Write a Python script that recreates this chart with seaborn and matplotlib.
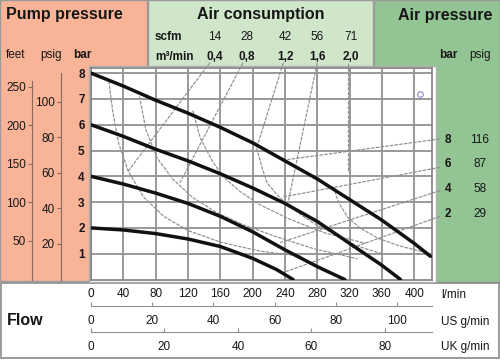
import matplotlib
matplotlib.use('Agg')
import pandas as pd
import matplotlib.pyplot as plt
import seaborn as sns
from matplotlib.patches import Rectangle

# pump curves: flow (l/min) vs pump pressure (bar), one per air pressure
flow_8bar = [0, 40, 80, 120, 160, 200, 240, 280, 320, 360, 400, 420]
head_8bar = [8.0, 7.5, 6.95, 6.45, 5.9, 5.3, 4.6, 3.9, 3.1, 2.3, 1.4, 0.9]
flow_6bar = [0, 40, 80, 120, 160, 200, 240, 280, 320, 360, 383]
head_6bar = [6.0, 5.55, 5.05, 4.6, 4.1, 3.55, 2.95, 2.25, 1.4, 0.55, 0.0]
flow_4bar = [0, 40, 80, 120, 160, 200, 240, 280, 314]
head_4bar = [4.0, 3.7, 3.35, 2.95, 2.45, 1.85, 1.15, 0.5, 0.0]
flow_2bar = [0, 40, 80, 120, 160, 200, 230, 250]
head_2bar = [2.0, 1.92, 1.78, 1.57, 1.28, 0.82, 0.38, 0.0]

# air consumption arcs (thin grey)
arc1_flow = [22, 27, 34, 46, 65, 90, 120, 160, 209, 260]
arc1_head = [7.7, 6.5, 5.3, 4.2, 3.2, 2.45, 1.9, 1.45, 1.1, 0.9]
arc2_flow = [60, 68, 82, 101, 125, 155, 190, 230, 275, 330]
arc2_head = [7.1, 5.8, 4.7, 3.9, 3.2, 2.6, 2.1, 1.65, 1.2, 0.8]
arc3_flow = [126, 135, 150, 163, 185, 209, 245, 290, 340]
arc3_head = [6.55, 5.5, 4.6, 4.0, 3.4, 2.9, 2.35, 1.8, 1.4]
arc4_flow = [205, 212, 218, 230, 243, 260, 280, 305, 329, 360]
arc4_head = [5.1, 4.3, 3.75, 3.3, 2.9, 2.5, 2.1, 1.7, 1.3, 1.0]
arc5_flow = [300, 304, 308, 318, 333, 355, 382, 420]
arc5_head = [3.6, 3.2, 2.9, 2.4, 2.0, 1.6, 1.3, 1.0]

# leader lines from the air consumption labels
lead_top_flow = [[147, 46], [188, 110], [238, 205], [280, 244], [318, 318]]
lead_top_head = [[8.4, 4.2], [8.4, 3.75], [8.4, 5.1], [8.4, 3.0], [8.4, 4.15]]
# leader lines from the air pressure labels
lead_right_flow = [[432, 243], [432, 238], [432, 234], [432, 238]]
lead_right_head = [[5.45, 4.65], [4.35, 3.2], [3.45, 1.43], [2.45, 0.27]]

scfm_labels = ['14', '28', '42', '56', '71']
m3_labels = ['0,4', '0,8', '1,2', '1,6', '2,0']
scfm_x = [215, 247, 285, 317, 351]

air_bar = ['8', '6', '4', '2']
air_psig = ['116', '87', '58', '29']
air_y = [143, 167, 192, 217]

flow_ticks = [0, 40, 80, 120, 160, 200, 240, 280, 320, 360, 400]
us_ticks = [0, 20, 40, 60, 80, 100]
uk_ticks = [0, 20, 40, 60, 80]
bar_ticks = [1, 2, 3, 4, 5, 6, 7, 8]
feet_ticks = [50, 100, 150, 200, 250]
psig_ticks = [20, 40, 60, 80, 100]

W, H = 500, 360
SALMON = '#f9b498'
LGREEN = '#cfe6cb'
DGREEN = '#93c494'
TXT = '#161616'


def rect(fig, x0, y0, x1, y1, fc, ec='#9a9a9a', lw=1.0):
    r = Rectangle((x0 / W, 1 - y1 / H), (x1 - x0) / W, (y1 - y0) / H,
                  transform=fig.transFigure, fc=fc, ec=ec, lw=lw, zorder=-1)
    fig.add_artist(r)


def ftext(fig, x, y, s, **kw):
    kw.setdefault('color', TXT)
    kw.setdefault('va', 'baseline')
    fig.text(x / W, 1 - y / H, s, **kw)


sns.set_theme(style='white')
plt.rcParams['font.family'] = ['Liberation Sans', 'DejaVu Sans']

fig = plt.figure(figsize=(5, 3.6), dpi=100)
fig.patch.set_facecolor('white')

# background panels
rect(fig, 0, 0, 147, 281, SALMON)
rect(fig, 148, 0, 373, 67, LGREEN)
rect(fig, 374, 0, 500, 282, DGREEN)
rect(fig, 1, 283, 499, 358, 'white', ec='#8a8a8a', lw=1.2)
rect(fig, 89, 66, 436, 282, 'white', ec='#b0b0b0', lw=1.0)

ax = fig.add_axes([91 / W, 1 - 279.5 / H, 341 / W, 211.5 / H])
ax.set_facecolor('white')

rows = []
for p, fl, hd in [(8, flow_8bar, head_8bar), (6, flow_6bar, head_6bar),
                  (4, flow_4bar, head_4bar), (2, flow_2bar, head_2bar)]:
    for f, h in zip(fl, hd):
        rows.append({'flow': f, 'head': h, 'air': p})
df = pd.DataFrame(rows)

thin = dict(color='#8e8e8e', lw=0.85, ls=(0, (3, 1)), zorder=2)
for fl, hd in [(arc1_flow, arc1_head), (arc2_flow, arc2_head), (arc3_flow, arc3_head),
               (arc4_flow, arc4_head), (arc5_flow, arc5_head)]:
    ax.plot(fl, hd, **thin)
for fl, hd in zip(lead_top_flow, lead_top_head):
    ax.plot(fl, hd, clip_on=False, **thin)
for fl, hd in zip(lead_right_flow, lead_right_head):
    ax.plot(fl, hd, clip_on=False, **thin)

sns.lineplot(data=df, x='flow', y='head', units='air', estimator=None, sort=False,
             color='#111111', lw=2.5, ax=ax, legend=False, zorder=3)
ax.plot([407], [7.2], marker='o', ms=4, mfc='none', mec='#8a84c0', mew=0.8)

ax.set_xlim(0, 422)
ax.set_ylim(0, 8.2)
ax.set_xticks(flow_ticks)
ax.set_yticks(bar_ticks)
ax.grid(True, color='#959595', lw=1.35, zorder=1)
ax.set_axisbelow(True)
ax.set_xlabel('')
ax.set_ylabel('')
for s in ax.spines.values():
    s.set_color('#808080')
    s.set_linewidth(1.2)
ax.tick_params(axis='x', length=0, pad=6, labelsize=8.5, labelcolor=TXT)
ax.tick_params(axis='y', length=0, pad=4.5, labelsize=8.5, labelcolor=TXT)
plt.setp(ax.get_yticklabels(), fontweight='bold')

# pump pressure scales on the left
feet = ax.secondary_yaxis(-0.173, functions=(lambda b: b * 33.46, lambda f: f / 33.46))
feet.set_yticks(feet_ticks)
psig = ax.secondary_yaxis(-0.088, functions=(lambda b: b * 14.5, lambda p: p / 14.5))
psig.set_yticks(psig_ticks)
for sec, top in [(feet, 258), (psig, 116)]:
    sec.spines['left'].set_color('#8a6a60')
    sec.spines['left'].set_linewidth(0.8)
    sec.spines['left'].set_bounds(0, top)
    sec.tick_params(length=3, width=0.8, color='#8a6a60', pad=1.5,
                    labelsize=8.5, labelcolor=TXT)

# flow scales at the bottom
us = ax.secondary_xaxis(-0.127, functions=(lambda l: l / 3.785, lambda g: g * 3.785))
us.set_xticks(us_ticks)
uk = ax.secondary_xaxis(-0.25, functions=(lambda l: l / 4.546, lambda g: g * 4.546))
uk.set_xticks(uk_ticks)
for sec in [us, uk]:
    sec.spines['bottom'].set_color('#909090')
    sec.spines['bottom'].set_linewidth(0.8)
    sec.tick_params(direction='in', length=3, width=0.8, color='#909090', pad=6.5,
                    labelsize=8.5, labelcolor=TXT)

# header texts
ftext(fig, 6, 19.5, 'Pump pressure', fontsize=11.5, fontweight='bold')
ftext(fig, 261, 18.5, 'Air consumption', fontsize=11.5, fontweight='bold', ha='center')
ftext(fig, 492, 20, 'Air pressure', fontsize=11.5, fontweight='bold', ha='right')
ftext(fig, 6, 58, 'feet', fontsize=8.5)
ftext(fig, 40, 58, 'psig', fontsize=8.5)
ftext(fig, 73, 58, 'bar', fontsize=8.5, fontweight='bold')
ftext(fig, 155, 40, 'scfm', fontsize=8.5, fontweight='bold')
ftext(fig, 155, 60, 'm³/min', fontsize=8.5, fontweight='bold')
for x, s, m in zip(scfm_x, scfm_labels, m3_labels):
    ftext(fig, x, 40, s, fontsize=8.5, ha='center')
    ftext(fig, x, 60, m, fontsize=8.5, fontweight='bold', ha='center')
ftext(fig, 448, 58, 'bar', fontsize=8.5, fontweight='bold', ha='center')
ftext(fig, 480, 58, 'psig', fontsize=8.5, ha='center')
for y, b, p in zip(air_y, air_bar, air_psig):
    ftext(fig, 448, y, b, fontsize=8.5, fontweight='bold', ha='center')
    ftext(fig, 480, y, p, fontsize=8.5, ha='center')

# flow footer texts
ftext(fig, 7, 325, 'Flow', fontsize=11.5, fontweight='bold')
ftext(fig, 441, 298, 'l/min', fontsize=8.5)
ftext(fig, 441, 325, 'US g/min', fontsize=8.5)
ftext(fig, 441, 350, 'UK g/min', fontsize=8.5)

fig.savefig('out.png', dpi=100)
